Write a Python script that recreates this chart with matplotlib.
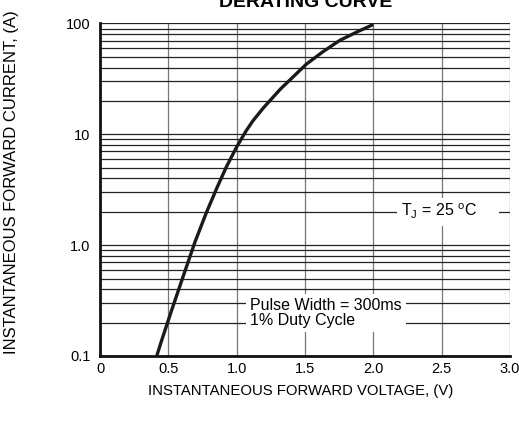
import numpy as np
import matplotlib
matplotlib.use("Agg")
import matplotlib.pyplot as plt
from matplotlib.ticker import FixedLocator, NullFormatter

plt.rcParams["font.family"] = ["Liberation Sans", "DejaVu Sans"]
plt.rcParams["mathtext.fontset"] = "custom"
plt.rcParams["mathtext.rm"] = "Liberation Sans"

# forward voltage (V) vs forward current (A)
voltage = [0.415, 0.45, 0.52, 0.61, 0.695, 0.78, 0.855, 0.925, 1.0, 1.07,
           1.12, 1.195, 1.32, 1.51, 1.63, 1.755, 1.89, 2.0]
current = [0.1, 0.137, 0.25, 0.53, 1.07, 1.99, 3.28, 5.1, 7.7, 10.8,
           13.3, 17.3, 25.6, 43.0, 55.5, 70.5, 85, 98]

x_ticks = [0, 0.5, 1.0, 1.5, 2.0, 2.5, 3.0]
x_labels = ["0", "0.5", "1.0", "1.5", "2.0", "2.5", "3.0"]
y_ticks = [0.1, 1.0, 10, 100]
y_labels = ["0.1", "1.0", "10", "100"]


def main():
    fig = plt.figure(figsize=(5.19, 4.21), dpi=100)
    ax = fig.add_axes([0.1927, 0.1544, 0.79, 0.7898])

    ax.set_yscale("log")
    ax.set_xlim(0, 3.0)
    ax.set_ylim(0.1, 100)

    # grid: every minor decade step horizontally, every 0.5 V vertically
    minor = [m * 10.0 ** e for e in range(-1, 2) for m in range(2, 10)]
    ax.yaxis.set_minor_locator(FixedLocator(minor))
    ax.yaxis.set_minor_formatter(NullFormatter())
    ax.set_yticks(y_ticks)
    ax.set_yticklabels(y_labels, fontsize=10.5)
    ax.set_xticks(x_ticks)
    ax.set_xticklabels(x_labels, fontsize=10.5)
    ax.tick_params(which="both", length=0)
    ax.tick_params(axis="y", pad=7)
    ax.tick_params(axis="x", pad=4)

    ax.grid(True, which="both", axis="y", color="#222222", lw=0.9)
    ax.grid(True, which="major", axis="x", color="#777777", lw=0.9)
    ax.set_axisbelow(True)

    for s in ["top", "right"]:
        ax.spines[s].set_visible(False)
    for s in ["left", "bottom"]:
        ax.spines[s].set_linewidth(2.0)
        ax.spines[s].set_color("#111111")

    ax.plot(voltage, current, color="#1a1a1a", lw=2.4, solid_capstyle="butt",
            solid_joinstyle="round", zorder=3)

    ax.text(2.2, 2.0, r"T$_\mathregular{J}$ = 25 $^\mathregular{o}$C     ", fontsize=11.5,
            va="center", ha="left",
            bbox=dict(facecolor="white", edgecolor="none", pad=3))
    ax.text(1.1, 0.245, "Pulse Width = 300ms\n1% Duty Cycle", fontsize=11.5,
            va="center", ha="left", linespacing=1.0,
            bbox=dict(facecolor="white", edgecolor="none", pad=3))

    fig.text(306 / 519, 1 - 7 / 421, "DERATING CURVE", fontsize=14, fontweight="bold",
             ha="center", va="baseline")
    fig.text(301 / 519, 1 - 391 / 421, "INSTANTANEOUS FORWARD VOLTAGE, (V)", fontsize=10.7,
             ha="center", va="center")
    fig.text(12 / 519, 1 - 182 / 421, "INSTANTANEOUS FORWARD CURRENT, (A)", fontsize=12,
             ha="center", va="center", rotation=90)

    fig.savefig("out.png", dpi=100)


if __name__ == "__main__":
    main()
